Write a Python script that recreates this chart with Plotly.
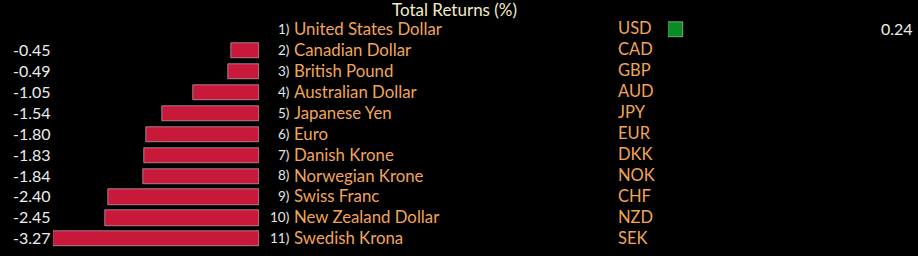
import plotly.graph_objects as go

names = ["United States Dollar", "Canadian Dollar", "British Pound", "Australian Dollar",
         "Japanese Yen", "Euro", "Danish Krone", "Norwegian Krone", "Swiss Franc",
         "New Zealand Dollar", "Swedish Krona"]
codes = ["USD", "CAD", "GBP", "AUD", "JPY", "EUR", "DKK", "NOK", "CHF", "NZD", "SEK"]
returns = [0.24, -0.45, -0.49, -1.05, -1.54, -1.80, -1.83, -1.84, -2.40, -2.45, -3.27]
title = "Total Returns (%)"

W, H = 918, 256
FONT = "Lato"
ORANGE = "#F2A55A"
WHITE = "#EDEDED"
RED = "#C8193A"
GREEN = "#0B8C22"

rows = list(range(len(names)))
neg_y = [i for i, v in zip(rows, returns) if v < 0]
neg_x = [v for v in returns if v < 0]
pos_y = [i for i, v in zip(rows, returns) if v >= 0]
pos_x = [v for v in returns if v >= 0]

px_per_unit = 63.0
row0, step = 29.5, 20.94
yr = [(H - row0) / step, (0 - row0) / step]

fig = go.Figure()
fig.add_trace(go.Bar(x=neg_x, y=neg_y, orientation="h", marker_color=RED,
                     width=0.72, xaxis="x", yaxis="y", hoverinfo="skip"))
fig.add_trace(go.Bar(x=pos_x, y=pos_y, orientation="h", marker_color=GREEN,
                     width=0.72, xaxis="x2", yaxis="y", hoverinfo="skip"))

l0, l1 = 53, 259
r0, r1 = 668, 900
fig.update_layout(
    width=W, height=H, margin=dict(l=0, r=0, t=0, b=0),
    paper_bgcolor="black", plot_bgcolor="black", showlegend=False,
    bargap=0,
    xaxis=dict(domain=[l0 / W, l1 / W], range=[-(l1 - l0) / px_per_unit, 0],
               visible=False, fixedrange=True),
    xaxis2=dict(domain=[r0 / W, r1 / W], range=[0, (r1 - r0) / px_per_unit],
                visible=False, fixedrange=True, anchor="y"),
    yaxis=dict(domain=[0, 1], range=yr, visible=False, fixedrange=True),
)

ann = []
ann.append(dict(text=title, x=454 / W, y=1 - 9.5 / H, xref="paper", yref="paper",
                yanchor="middle", xanchor="center", showarrow=False,
                font=dict(family=FONT, size=17, color="#F3EBC8")))
for i, (n, c, v) in enumerate(zip(names, codes, returns)):
    ann.append(dict(text=f"{i + 1})", x=291 / W, y=i - 0.03, xref="paper", yref="y",
                    xanchor="right", yanchor="middle", showarrow=False,
                    font=dict(family=FONT, size=13.5, color="#E6E6E6")))
    ann.append(dict(text=n, x=292 / W, y=i - 0.05, xref="paper", yref="y",
                    xanchor="left", yanchor="middle", showarrow=False,
                    font=dict(family=FONT, size=16.8, color=ORANGE)))
    ann.append(dict(text=c, x=616 / W, y=i - 0.05, xref="paper", yref="y",
                    xanchor="left", yanchor="middle", showarrow=False,
                    font=dict(family=FONT, size=16.5, color=ORANGE)))
    if v < 0:
        ann.append(dict(text=f"{v:.2f}", x=11 / W, y=i - 0.05, xref="paper", yref="y",
                        xanchor="left", yanchor="middle", showarrow=False,
                        font=dict(family=FONT, size=16, color=WHITE)))
    else:
        ann.append(dict(text=f"{v:.2f}", x=915 / W, y=i - 0.05, xref="paper", yref="y",
                        xanchor="right", yanchor="middle", showarrow=False,
                        font=dict(family=FONT, size=16, color=WHITE)))
fig.update_layout(annotations=ann)
fig.write_html("out.html")
